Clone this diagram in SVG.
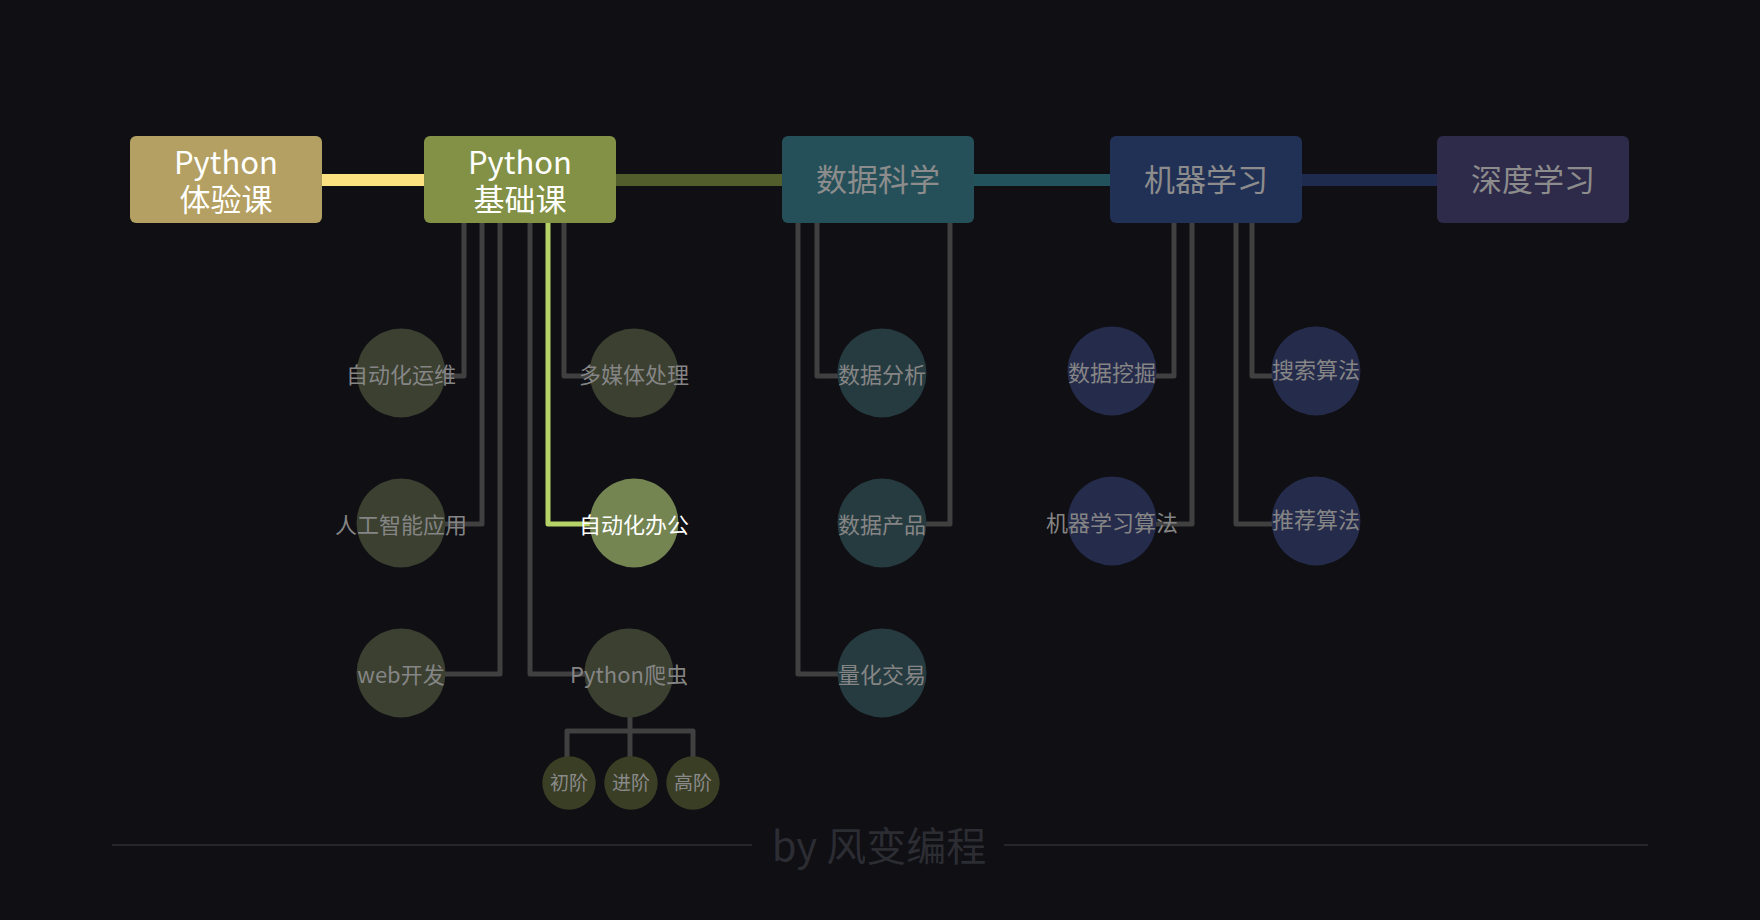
<svg xmlns="http://www.w3.org/2000/svg" width="1760" height="920" viewBox="0 0 1760 920">
<style>
  .t { font-family: "Noto Sans CJK SC", "Noto Sans", sans-serif; text-anchor: middle; }
  .box { font-size: 31px; font-weight: 400; }
  .lbl { font-size: 22px; fill: #858585; }
  .sm { font-size: 19px; fill: #8a8a8a; }
  .ln { fill: none; stroke: #404040; stroke-width: 5; stroke-linejoin: round; stroke-linecap: round; }
  .sel { fill: none; stroke: #b5d366; stroke-width: 5; stroke-linejoin: round; stroke-linecap: round; }
  .cp { fill: #3b4030; }
  .cd { fill: #263b40; }
  .cm { fill: #252b4b; }
  .cs { fill: #393e25; }
  .white { fill: #ffffff; }
  .grey { fill: #8c8c8c; }
</style>
<rect width="1760" height="920" fill="#0f0f14"/>
<g id="connectors">
  <line x1="320" y1="180" x2="426" y2="180" stroke="#fde281" stroke-width="12"/>
  <line x1="614" y1="180" x2="784" y2="180" stroke="#525e2c" stroke-width="12"/>
  <line x1="972" y1="180" x2="1112" y2="180" stroke="#22525c" stroke-width="12"/>
  <line x1="1300" y1="180" x2="1439" y2="180" stroke="#1e2a4e" stroke-width="12"/>
  <path class="ln" d="M464 222 V376 H400"/>
  <path class="ln" d="M482 222 V524 H400"/>
  <path class="ln" d="M500 222 V674 H400"/>
  <path class="ln" d="M530 222 V674 H629"/>
  <path class="ln" d="M564 222 V376 H634"/>
  <path class="sel" d="M548 222 V524 H634"/>
  <path class="ln" d="M630 700 V731 M567 757 V731 H693 V757 M630 731 V757"/>
  <path class="ln" d="M798 222 V674 H882"/>
  <path class="ln" d="M817 222 V376 H882"/>
  <path class="ln" d="M950 222 V524 H882"/>
  <path class="ln" d="M1174 222 V376 H1112"/>
  <path class="ln" d="M1192 222 V524 H1112"/>
  <path class="ln" d="M1236 222 V524 H1316"/>
  <path class="ln" d="M1252 222 V376 H1316"/>
</g>
<g id="python-trial">
  <rect x="130" y="136" width="192" height="87" rx="6" fill="#b3a062"/>
  <text class="t box white"><tspan x="226" y="174">Python</tspan><tspan x="226" y="211">体验课</tspan></text>
</g>
<g id="python-basic">
  <rect x="424" y="136" width="192" height="87" rx="6" fill="#829145"/>
  <text class="t box white"><tspan x="520" y="174">Python</tspan><tspan x="520" y="211">基础课</tspan></text>
</g>
<g id="data-science">
  <rect x="782" y="136" width="192" height="87" rx="6" fill="#265059"/>
  <text class="t box grey" x="878" y="191">数据科学</text>
</g>
<g id="machine-learning">
  <rect x="1110" y="136" width="192" height="87" rx="6" fill="#213055"/>
  <text class="t box grey" x="1206" y="191">机器学习</text>
</g>
<g id="deep-learning">
  <rect x="1437" y="136" width="192" height="87" rx="6" fill="#2e2a4a"/>
  <text class="t box grey" x="1533" y="191">深度学习</text>
</g>
<g id="ops"><circle class="cp" cx="401" cy="373" r="44.5"/><text class="t lbl" x="401" y="383">自动化运维</text></g>
<g id="ai"><circle class="cp" cx="401" cy="523" r="44.5"/><text class="t lbl" x="401" y="533">人工智能应用</text></g>
<g id="web"><circle class="cp" cx="401" cy="673" r="44.5"/><text class="t lbl" x="401" y="683">web开发</text></g>
<g id="media"><circle class="cp" cx="634" cy="373" r="44.5"/><text class="t lbl" x="634" y="383">多媒体处理</text></g>
<g id="office"><circle cx="634" cy="523" r="44.5" fill="#748552"/><text class="t lbl white" x="634" y="533">自动化办公</text></g>
<g id="crawler"><circle class="cp" cx="629" cy="673" r="44.5"/><text class="t lbl" x="629" y="683">Python爬虫</text></g>
<g id="basic"><circle class="cs" cx="569" cy="783" r="26.7"/><text class="t sm" x="569" y="790">初阶</text></g>
<g id="advanced"><circle class="cs" cx="631" cy="783" r="26.7"/><text class="t sm" x="631" y="790">进阶</text></g>
<g id="expert"><circle class="cs" cx="693" cy="783" r="26.7"/><text class="t sm" x="693" y="790">高阶</text></g>
<g id="analysis"><circle class="cd" cx="882" cy="373" r="44.5"/><text class="t lbl" x="882" y="383">数据分析</text></g>
<g id="product"><circle class="cd" cx="882" cy="523" r="44.5"/><text class="t lbl" x="882" y="533">数据产品</text></g>
<g id="quant"><circle class="cd" cx="882" cy="673" r="44.5"/><text class="t lbl" x="882" y="683">量化交易</text></g>
<g id="mining"><circle class="cm" cx="1112" cy="371" r="44.5"/><text class="t lbl" x="1112" y="381">数据挖掘</text></g>
<g id="ml-algo"><circle class="cm" cx="1112" cy="521" r="44.5"/><text class="t lbl" x="1112" y="531">机器学习算法</text></g>
<g id="search"><circle class="cm" cx="1316" cy="371" r="44.5"/><text class="t lbl" x="1316" y="378">搜索算法</text></g>
<g id="recommend"><circle class="cm" cx="1316" cy="521" r="44.5"/><text class="t lbl" x="1316" y="528">推荐算法</text></g>
<g id="footer">
  <line x1="112" y1="845" x2="752" y2="845" stroke="#25252b" stroke-width="2"/>
  <line x1="1004" y1="845" x2="1648" y2="845" stroke="#25252b" stroke-width="2"/>
  <text class="t" x="879" y="861" font-size="40" fill="#2c2c33">by 风变编程</text>
</g>
</svg>
